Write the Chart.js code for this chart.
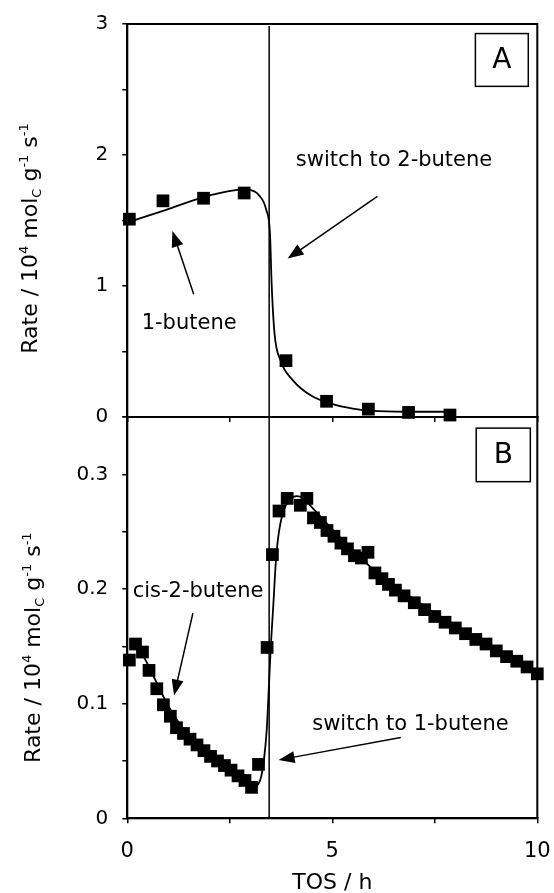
<!DOCTYPE html>
<html>
<head>
<meta charset="utf-8">
<script src="https://cdn.jsdelivr.net/npm/chart.js@4.4.1/dist/chart.umd.min.js"></script>
<style>
    html, body { margin: 0; padding: 0; background: #fff; }
    #wrap { position: relative; width: 554px; height: 893px; }
    #wrap canvas { position: absolute; left: 0; top: 0; }
</style>
</head>
<body>
<div id="wrap">
    <canvas id="panelA" width="554" height="893"></canvas>
    <canvas id="panelB" width="554" height="893"></canvas>
</div>
<script>
// Values
const switchTime = 3.46;

// Panel A: 1-butene feed, then switch to 2-butene
const timeA = [0.05, 0.87, 1.86, 2.85, 3.87, 4.86, 5.88, 6.86, 7.87];
const rateA = [1.51, 1.65, 1.67, 1.71, 0.43, 0.12, 0.06, 0.035, 0.015];
const fitTimeA = [0.05, 0.93, 1.88, 2.48, 2.91, 3.22, 3.39, 3.48, 3.52, 3.59, 3.74, 4.04, 4.47, 4.99, 5.5, 5.94, 6.8, 7.84];
const fitRateA = [1.49, 1.58, 1.68, 1.725, 1.735, 1.69, 1.58, 1.40, 1.02, 0.64, 0.43, 0.28, 0.166, 0.10, 0.064, 0.048, 0.04, 0.04];

// Panel B: cis-2-butene feed, then switch to 1-butene
const timeB = [0.05, 0.2, 0.37, 0.53, 0.72, 0.88, 1.05, 1.2, 1.37, 1.53, 1.7, 1.87, 2.03, 2.2, 2.37, 2.53, 2.7, 2.87, 3.03,
               3.2, 3.41, 3.54, 3.7, 3.9, 4.22, 4.38, 4.54, 4.71, 4.87, 5.04, 5.21, 5.37, 5.54, 5.71, 5.87, 6.04, 6.21, 6.37, 6.54,
               6.75, 7.0, 7.25, 7.5, 7.75, 8.0, 8.25, 8.5, 8.75, 9.0, 9.25, 9.5, 9.75, 10.0];
const rateB = [0.138, 0.152, 0.145, 0.129, 0.113, 0.099, 0.089, 0.079, 0.074, 0.069, 0.064, 0.059, 0.054, 0.050, 0.046, 0.042, 0.037, 0.033, 0.027,
               0.047, 0.149, 0.230, 0.268, 0.279, 0.273, 0.279, 0.262, 0.258, 0.251, 0.246, 0.240, 0.235, 0.229, 0.227, 0.232, 0.214, 0.209, 0.204, 0.199,
               0.194, 0.188, 0.182, 0.176, 0.171, 0.166, 0.161, 0.156, 0.152, 0.146, 0.141, 0.137, 0.132, 0.126];
const fitTimeB = [0.15, 0.35, 0.68, 1.0, 1.33, 1.73, 2.14, 2.55, 2.87, 3.03, 3.13, 3.2, 3.27, 3.33, 3.4, 3.45, 3.5, 3.56, 3.62, 3.68,
                  3.8, 3.97, 4.13, 4.3, 4.46, 5.0, 5.5, 6.0, 6.5, 7.0, 7.5, 8.0, 8.5, 9.0, 9.5, 10.0];
const fitRateB = [0.152, 0.144, 0.121, 0.098, 0.080, 0.066, 0.054, 0.042, 0.034, 0.030, 0.028, 0.030, 0.037, 0.050, 0.077, 0.112, 0.150, 0.185, 0.222, 0.245,
                  0.267, 0.278, 0.281, 0.279, 0.273, 0.252, 0.234, 0.217, 0.203, 0.191, 0.179, 0.168, 0.157, 0.147, 0.137, 0.128];

// Tick labels
const xTickLabels = [0, 5, 10];
const yTickLabelsA = [0, 1, 2, 3];
const yTickLabelsB = [0, 0.1, 0.2, 0.3];

const FONT = '"DejaVu Sans"';
const pts = (xs, ys) => xs.map((x, i) => ({ x: x, y: ys[i] }));

function drawArrow(ctx, x0, y0, x1, y1)
{
    const a = Math.atan2(y1 - y0, x1 - x0), head = 16, half = 6;
    const c = Math.cos(a), s = Math.sin(a);

    ctx.lineWidth = 1.5;
    ctx.beginPath();
    ctx.moveTo(x0, y0);
    ctx.lineTo(x1 - head * 0.8 * c, y1 - head * 0.8 * s);
    ctx.stroke();

    ctx.beginPath();
    ctx.moveTo(x1, y1);
    ctx.lineTo(x1 - head * c + half * s, y1 - head * s - half * c);
    ctx.lineTo(x1 - head * c - half * s, y1 - head * s + half * c);
    ctx.closePath();
    ctx.fill();
}

// Rotated axis title with super/subscripts
function drawRich(ctx, parts, size, small, cx, cy)
{
    ctx.save();
    ctx.translate(cx, cy);
    ctx.rotate(-Math.PI / 2);
    ctx.textAlign = 'left';
    ctx.textBaseline = 'alphabetic';

    let total = 0;
    parts.forEach(p =>
    {
        ctx.font = (p.s ? small : size) + 'px ' + FONT;
        p.w = ctx.measureText(p.t).width;
        total += p.w;
    });

    let x = -total / 2;
    parts.forEach(p =>
    {
        ctx.font = (p.s ? small : size) + 'px ' + FONT;
        const dy = p.s > 0 ? -size * 0.4 : (p.s < 0 ? size * 0.2 : 0);
        ctx.fillText(p.t, x, dy);
        x += p.w;
    });
    ctx.restore();
}

const rateTitle = [
    { t: 'Rate / 10', s: 0 }, { t: '4', s: 1 }, { t: ' mol', s: 0 }, { t: 'C', s: -1 },
    { t: ' g', s: 0 }, { t: '-1', s: 1 }, { t: ' s', s: 0 }, { t: '-1', s: 1 }
];

const panelDecor =
{
    id: 'panelDecor',

    beforeDatasetsDraw(chart)
    {
        const ctx = chart.ctx, area = chart.chartArea;
        ctx.save();
        ctx.strokeStyle = '#000';
        ctx.lineWidth = 2;
        ctx.strokeRect(area.left, area.top, area.right - area.left, area.bottom - area.top);
        ctx.restore();
    },

    afterDatasetsDraw(chart, args, opts)
    {
        const ctx = chart.ctx, xs = chart.scales.x, ys = chart.scales.y, area = chart.chartArea;
        const px = v => xs.getPixelForValue(v), py = v => ys.getPixelForValue(v);

        ctx.save();
        ctx.fillStyle = '#000';
        ctx.strokeStyle = '#000';

        // notes
        ctx.font = '21px ' + FONT;
        ctx.textAlign = 'left';
        ctx.textBaseline = 'alphabetic';
        opts.notes.forEach(n => ctx.fillText(n.text, px(n.x), py(n.y)));

        // arrows
        opts.arrows.forEach(a => drawArrow(ctx, px(a.from[0]), py(a.from[1]), px(a.to[0]), py(a.to[1])));

        // panel letter in a box
        const b = opts.letter;
        const bx0 = px(b.x0), bx1 = px(b.x1), by0 = py(b.y0), by1 = py(b.y1);
        ctx.lineWidth = 1.5;
        ctx.strokeRect(bx0, by1, bx1 - bx0, by0 - by1);
        ctx.font = '28px ' + FONT;
        ctx.textAlign = 'center';
        ctx.textBaseline = 'middle';
        ctx.fillText(b.text, (bx0 + bx1) / 2, (by0 + by1) / 2 + 1);

        // y title
        drawRich(ctx, rateTitle, 22, 13, opts.yTitle.x, (area.top + area.bottom) / 2 + opts.yTitle.shift);

        // x title
        if (opts.xTitle)
        {
            ctx.font = '22px ' + FONT;
            ctx.textAlign = 'center';
            ctx.textBaseline = 'alphabetic';
            ctx.fillText(opts.xTitle.text, (area.left + area.right) / 2, area.bottom + opts.xTitle.offset);
        }
        ctx.restore();
    }
};

function makeChart(id, cfg)
{
    return new Chart(document.getElementById(id),
    {
        type: 'line',

        data:
        {
            datasets:
            [
                {
                    data: pts(cfg.fitTime, cfg.fitRate),
                    borderColor: '#000',
                    borderWidth: 1.8,
                    pointRadius: 0,
                    cubicInterpolationMode: 'monotone',
                    clip: false
                },
                {
                    data: pts(cfg.time, cfg.rate),
                    showLine: false,
                    pointStyle: 'rect',
                    pointRadius: 9,
                    pointBorderWidth: 0,
                    pointBackgroundColor: '#000',
                    clip: false
                },
                {
                    data: [{ x: switchTime, y: 0 }, { x: switchTime, y: cfg.yMax * cfg.lineTop }],
                    borderColor: '#000',
                    borderWidth: 1.5,
                    pointRadius: 0
                }
            ]
        },

        options:
        {
            responsive: false,
            animation: false,
            devicePixelRatio: 1,
            events: [],

            layout:
            {
                padding: { left: 0, right: 16.7, top: cfg.top, bottom: cfg.bottomPad }
            },

            plugins:
            {
                legend: { display: false },
                tooltip: { enabled: false },
                panelDecor: cfg.decor
            },

            scales:
            {
                x:
                {
                    type: 'linear',
                    min: 0,
                    max: 10,
                    afterFit: s =>
                    {
                        s.height = cfg.xHeight;
                        s.paddingLeft = 0;
                        s.paddingRight = 0;
                    },
                    border: { color: '#000', width: 2 },
                    grid: { drawOnChartArea: false, drawTicks: true, tickLength: 5, color: '#000', lineWidth: 1.5 },
                    ticks:
                    {
                        display: cfg.xLabels,
                        stepSize: 2.5,
                        padding: 16,
                        color: '#000',
                        font: { family: 'DejaVu Sans', size: 21 },
                        maxRotation: 0,
                        autoSkip: false,
                        callback: v => xTickLabels.includes(v) ? String(v) : ''
                    }
                },

                y:
                {
                    type: 'linear',
                    min: 0,
                    max: cfg.yMax,
                    afterFit: s =>
                    {
                        s.width = 127.3;
                        s.paddingTop = 0;
                        s.paddingBottom = 0;
                    },
                    border: { color: '#000', width: 2 },
                    grid: { drawOnChartArea: false, drawTicks: true, tickLength: 5, color: '#000', lineWidth: 1.5 },
                    ticks:
                    {
                        stepSize: cfg.yStep,
                        padding: 14,
                        color: '#000',
                        font: { family: 'DejaVu Sans', size: 20 },
                        autoSkip: false,
                        callback: v =>
                        {
                            const r = Math.round(v * 100) / 100;
                            return cfg.yLabels.includes(r) ? String(r) : '';
                        }
                    }
                }
            }
        },

        plugins: [panelDecor]
    });
}

makeChart('panelA',
{
    time: timeA, rate: rateA, fitTime: fitTimeA, fitRate: fitRateA,
    yMax: 3, yStep: 0.5, yLabels: yTickLabelsA, lineTop: 0.995,
    top: 24, xHeight: 10, bottomPad: 893 - 417 - 10, xLabels: false,
    decor:
    {
        notes: [{ text: 'switch to 2-butene', x: 4.11, y: 1.914 }, { text: '1-butene', x: 0.35, y: 0.668 }],
        arrows: [{ from: [6.1, 1.685], to: [3.91, 1.209] }, { from: [1.62, 0.937], to: [1.10, 1.42] }],
        letter: { text: 'A', x0: 8.49, x1: 9.78, y0: 2.524, y1: 2.927 },
        yTitle: { x: 37, shift: 18 }
    }
});

makeChart('panelB',
{
    time: timeB, rate: rateB, fitTime: fitTimeB, fitRate: fitRateB,
    yMax: 0.35, yStep: 0.05, yLabels: yTickLabelsB, lineTop: 1,
    top: 417, xHeight: 893 - 818.3, bottomPad: 0, xLabels: true,
    decor:
    {
        notes: [{ text: 'cis-2-butene', x: 0.13, y: 0.1926 }, { text: 'switch to 1-butene', x: 4.51, y: 0.0773 }],
        arrows: [{ from: [1.6, 0.179], to: [1.14, 0.107] }, { from: [6.67, 0.0705], to: [3.69, 0.0509] }],
        letter: { text: 'B', x0: 8.51, x1: 9.83, y0: 0.2936, y1: 0.3403 },
        yTitle: { x: 40, shift: 30 },
        xTitle: { text: 'TOS / h', offset: 71 }
    }
});
</script>
</body>
</html>
